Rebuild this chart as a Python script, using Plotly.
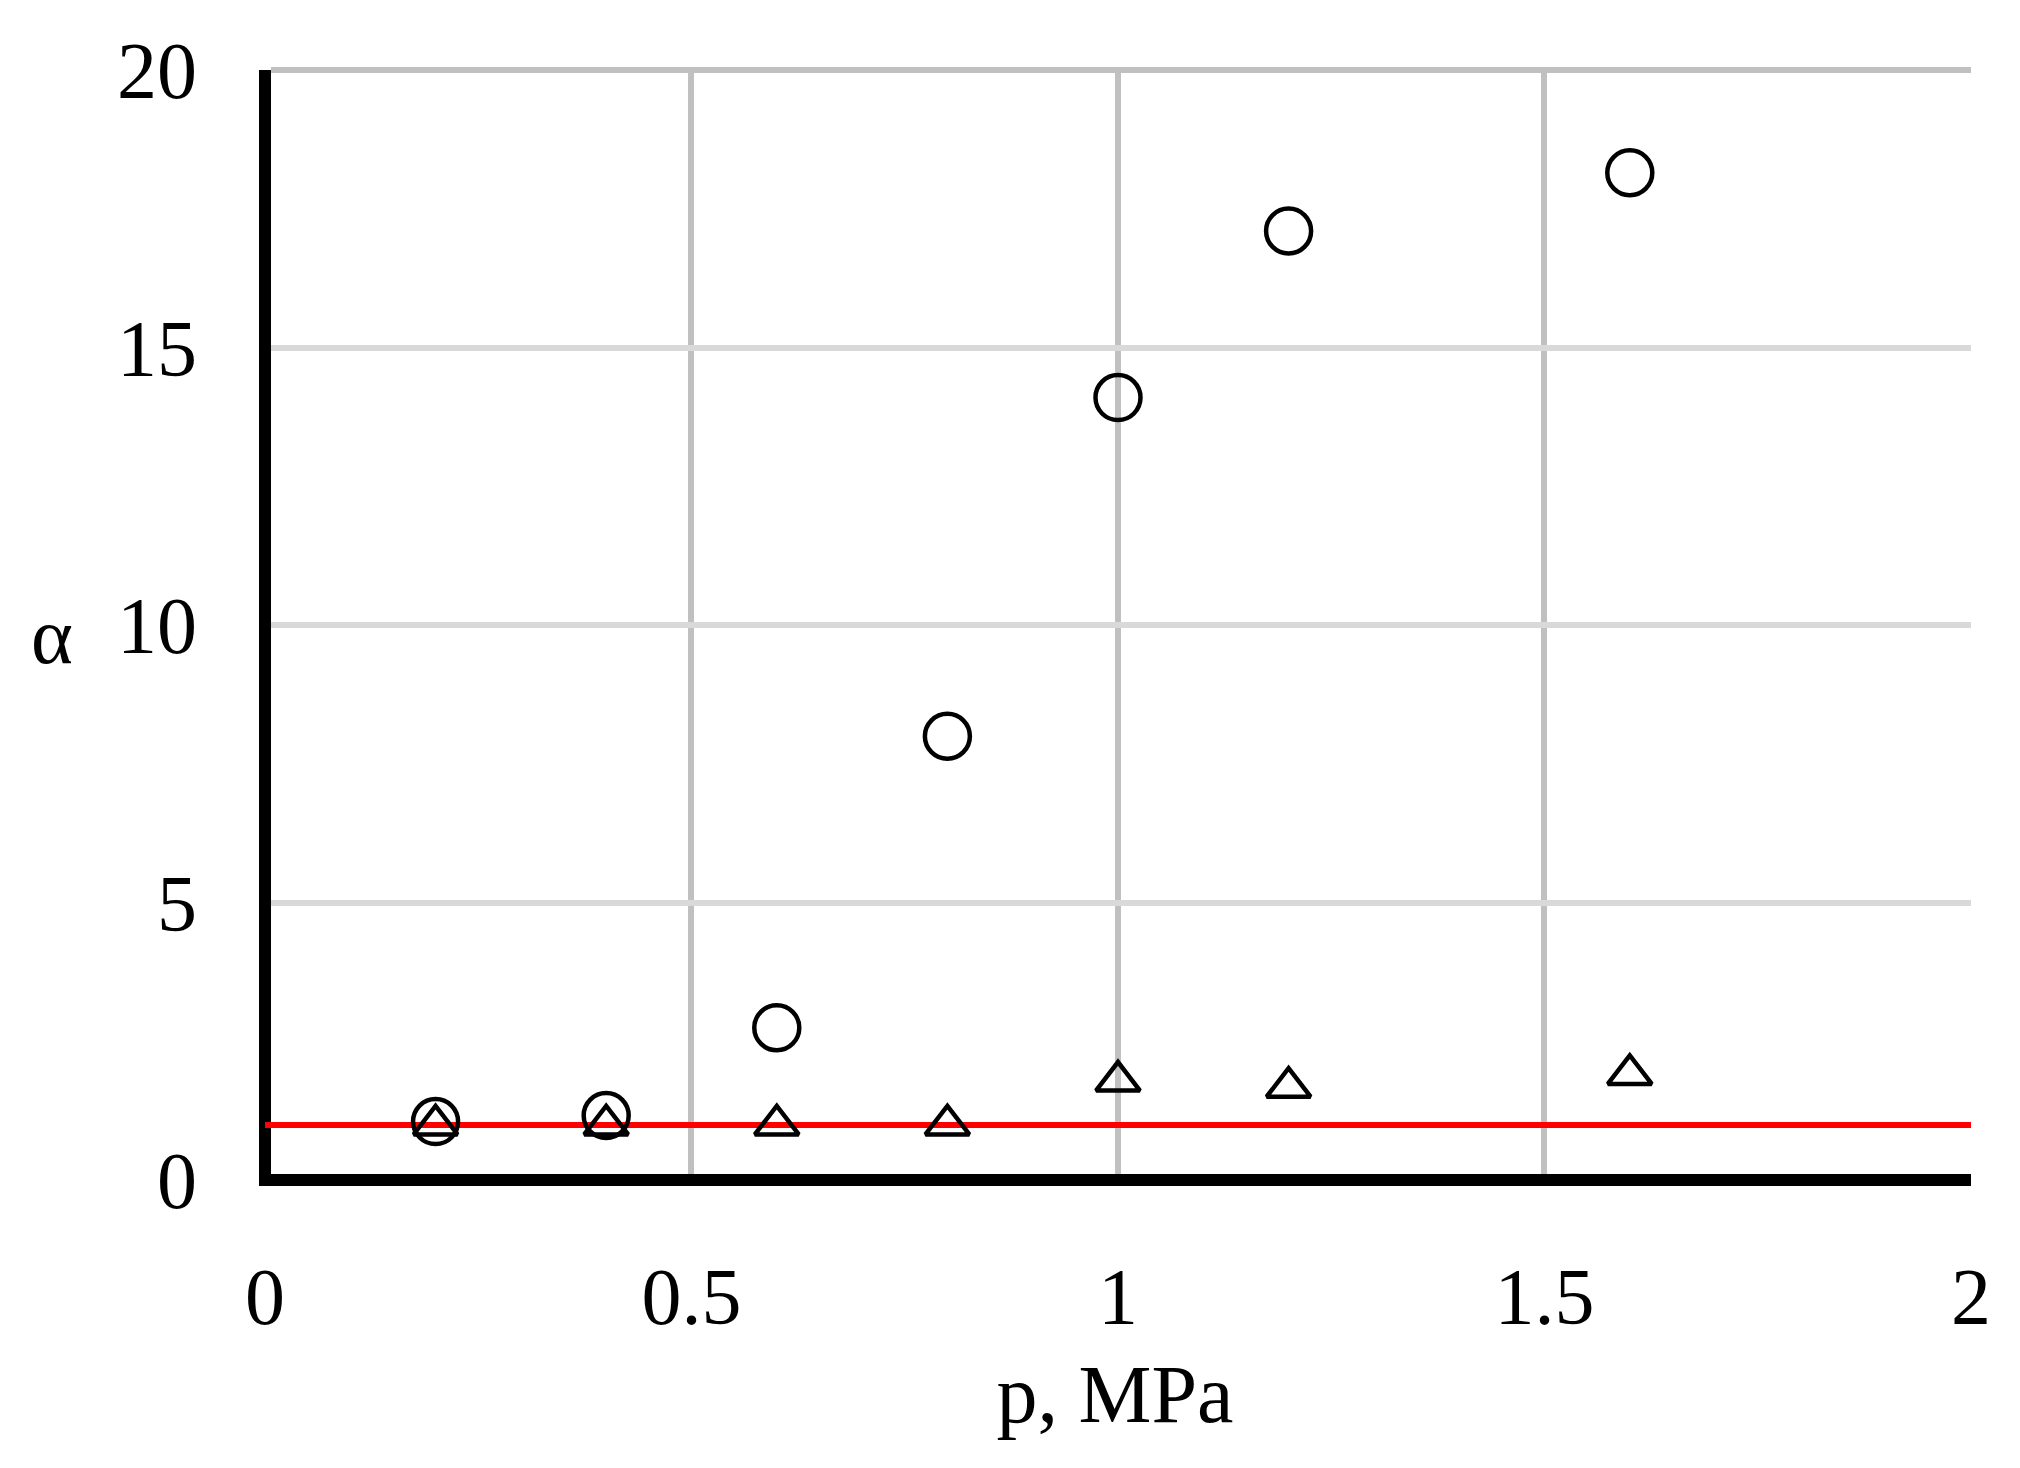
import plotly.graph_objects as go

# Data
p_mpa = [0.2, 0.4, 0.6, 0.8, 1.0, 1.2, 1.6]
alpha_circles = [1.06, 1.17, 2.75, 8.0, 14.1, 17.1, 18.15]
alpha_triangles = [1.0, 1.0, 1.0, 1.0, 1.79, 1.68, 1.91]
ref_x = [0, 2]
ref_alpha = [1.0, 1.0]

x_ticks = [0, 0.5, 1, 1.5, 2]
x_tick_labels = ["0", "0.5", "1", "1.5", "2"]
y_ticks = [0, 5, 10, 15, 20]
y_tick_labels = ["0", "5", "10", "15", "20"]

FONT = "Liberation Serif"

fig = go.Figure()

fig.add_trace(go.Scatter(
    x=ref_x, y=ref_alpha, mode="lines",
    line=dict(color="#ff0000", width=6),
    showlegend=False, hoverinfo="skip", cliponaxis=False,
))
fig.add_trace(go.Scatter(
    x=p_mpa, y=alpha_circles, mode="markers",
    marker=dict(symbol="circle-open", size=45, color="black",
                line=dict(color="black", width=4.5)),
    showlegend=False,
))
fig.add_trace(go.Scatter(
    x=p_mpa, y=alpha_triangles, mode="markers",
    marker=dict(symbol="triangle-up-open", size=38, color="black",
                line=dict(color="black", width=4.5)),
    showlegend=False,
))

fig.update_layout(
    width=2020, height=1468,
    margin=dict(l=259, r=49, t=70, b=282, autoexpand=False),
    paper_bgcolor="white", plot_bgcolor="white",
    font=dict(family=FONT, size=80, color="black"),
    showlegend=False,
)

fig.update_xaxes(
    range=[-0.007, 2], tickvals=x_ticks, ticktext=x_tick_labels,
    showgrid=True, gridcolor="#c0c0c0", gridwidth=6,
    showline=False,
    zeroline=True, zerolinecolor="black", zerolinewidth=12,
    ticks="", ticklabelstandoff=57,
    tickfont=dict(family=FONT, size=80, color="black"),
    title=dict(text="p, MPa", font=dict(family=FONT, size=82, color="black"),
               standoff=24),
)
fig.update_yaxes(
    range=[-0.1, 20], tickvals=y_ticks, ticktext=y_tick_labels,
    showgrid=True, gridcolor="#d9d9d9", gridwidth=6,
    showline=False,
    zeroline=True, zerolinecolor="black", zerolinewidth=12,
    ticks="", ticklabelstandoff=61,
    tickfont=dict(family=FONT, size=80, color="black"),
)

# top border of plot area
fig.add_shape(type="line", xref="paper", yref="paper", x0=0.007, x1=1, y0=1, y1=1,
              line=dict(color="#c0c0c0", width=6), layer="above")

fig.add_annotation(
    text="α", xref="paper", yref="y", x=-0.121, y=9.8,
    showarrow=False, font=dict(family=FONT, size=80, color="black"),
    xanchor="center", yanchor="middle",
)

fig.write_html("out.html", config={"displayModeBar": False},
               post_script="document.body.style.margin='0';")
